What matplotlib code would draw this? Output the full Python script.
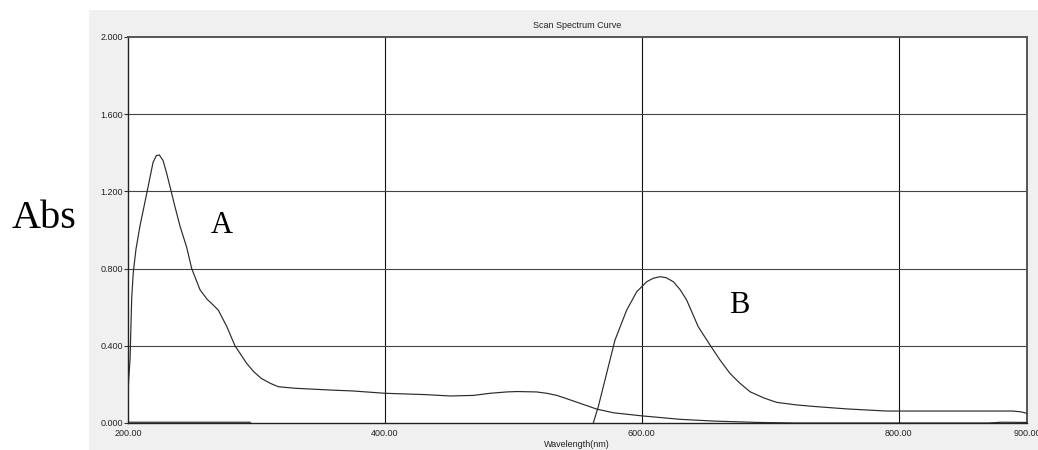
import matplotlib
matplotlib.use("Agg")
import matplotlib.pyplot as plt
from matplotlib.patches import Rectangle

# Spectrum A (wavelength in nm, absorbance)
wl_a = [200, 200.5, 201.6, 202.9, 204.1, 206.2, 209.3, 214.6, 219.5, 222, 224.4,
        227.3, 230.1, 234.0, 236.6, 240.5, 245.7, 249.6, 256.1, 261.7, 265, 270.3,
        276.9, 283.3, 292.4, 298, 304, 311, 317, 330, 345, 357, 375, 400, 432,
        451, 469, 482, 495, 503, 518, 526, 534, 542, 552, 565, 578, 600, 630,
        656, 690, 720, 800, 870, 880, 900]
abs_a = [0.13, 0.22, 0.33, 0.65, 0.78, 0.90, 1.02, 1.19, 1.35, 1.385, 1.389,
         1.36, 1.294, 1.19, 1.12, 1.02, 0.91, 0.80, 0.69, 0.64, 0.62, 0.585,
         0.50, 0.40, 0.309, 0.265, 0.23, 0.205, 0.188, 0.18, 0.175, 0.171, 0.166,
         0.154, 0.147, 0.140, 0.143, 0.154, 0.161, 0.163, 0.161, 0.154, 0.143,
         0.125, 0.102, 0.072, 0.053, 0.037, 0.019, 0.010, 0.003, 0.0, 0.0, 0.0,
         0.004, 0.003]

# Spectrum B (wavelength in nm, absorbance)
wl_b = [200, 295, 300, 400, 500, 555, 562.3, 566.2, 571.4, 579.2, 588.3, 596.1,
        603.9, 609, 614.2, 619, 624.6, 630, 635, 644, 653.2, 661, 668.7, 676.5,
        684.3, 695, 705, 720, 733.6, 759.6, 790.7, 824.5, 863.4, 889, 895, 900]
abs_b = [0.004, 0.004, -0.05, -0.05, -0.05, -0.04, 0.0, 0.085, 0.223, 0.43,
         0.585, 0.68, 0.732, 0.75, 0.758, 0.753, 0.732, 0.69, 0.637, 0.499,
         0.404, 0.326, 0.257, 0.206, 0.162, 0.13, 0.107, 0.094, 0.086, 0.073,
         0.062, 0.062, 0.062, 0.062, 0.058, 0.050]

x_ticks = [200, 400, 600, 800, 900]
x_tick_labels = ["200.00", "400.00", "600.00", "800.00", "900.00"]
y_ticks = [0.0, 0.4, 0.8, 1.2, 1.6, 2.0]
y_tick_labels = ["0.000", "0.400", "0.800", "1.200", "1.600", "2.000"]

W, H = 1038, 450
fig = plt.figure(figsize=(W / 100, H / 100), dpi=100)
fig.patch.set_facecolor("white")

# grey instrument panel behind the plot
fig.patches.append(Rectangle((89 / W, 0), 1 - 89 / W, (H - 10) / H,
                             transform=fig.transFigure, facecolor="#f0f0f0",
                             edgecolor="none", zorder=-10))

ax = fig.add_axes([128 / W, 27 / H, 899 / W, 386 / H])
ax.set_zorder(5)
ax.set_facecolor("white")
ax.set_xlim(200, 900)
ax.set_ylim(0, 2.0)

ax.set_xticks(x_ticks)
ax.set_xticklabels(x_tick_labels)
ax.set_yticks(y_ticks)
ax.set_yticklabels(y_tick_labels)

for lab in ax.get_xticklabels() + ax.get_yticklabels():
    lab.set_fontfamily("Liberation Sans")
    lab.set_fontsize(6.5)
    lab.set_color("#222222")
ax.tick_params(axis="x", length=0, pad=4.5)
ax.tick_params(axis="y", length=3, width=0.8, pad=0.5, color="#333333")

# grid
for v in [400, 600, 800]:
    ax.axvline(v, color="#111111", lw=0.8, zorder=1)
for h in [0.4, 0.8, 1.2, 1.6]:
    ax.axhline(h, color="#444444", lw=0.8, zorder=1)

for side in ["left", "bottom"]:
    ax.spines[side].set_color("#222222")
    ax.spines[side].set_linewidth(1.0)
for side in ["top", "right"]:
    ax.spines[side].set_color("#555555")
    ax.spines[side].set_linewidth(1.4)

ax.plot(wl_a, abs_a, color="#2a2a2a", lw=0.85, zorder=3)
ax.plot(wl_b, abs_b, color="#2a2a2a", lw=0.85, zorder=3)

ax.text(273.2, 0.984, "A", family="Liberation Serif", fontsize=22,
        ha="center", va="baseline", color="black")
ax.text(675.7, 0.570, "B", family="Liberation Serif", fontsize=22,
        ha="center", va="baseline", color="black")

fig.text(577 / W, (H - 25.5) / H, "Scan Spectrum Curve", family="Liberation Sans",
         fontsize=6.5, ha="center", va="center", color="#222222")
fig.text(577 / W, (H - 444.5) / H, "Wavelength(nm)", family="Liberation Sans",
         fontsize=6.5, ha="center", va="center", color="#222222")
fig.text(44 / W, (H - 228.3) / H, "Abs", family="Liberation Serif", fontsize=29,
         ha="center", va="baseline", color="black")

fig.savefig("out.png", dpi=100, facecolor=fig.get_facecolor())
